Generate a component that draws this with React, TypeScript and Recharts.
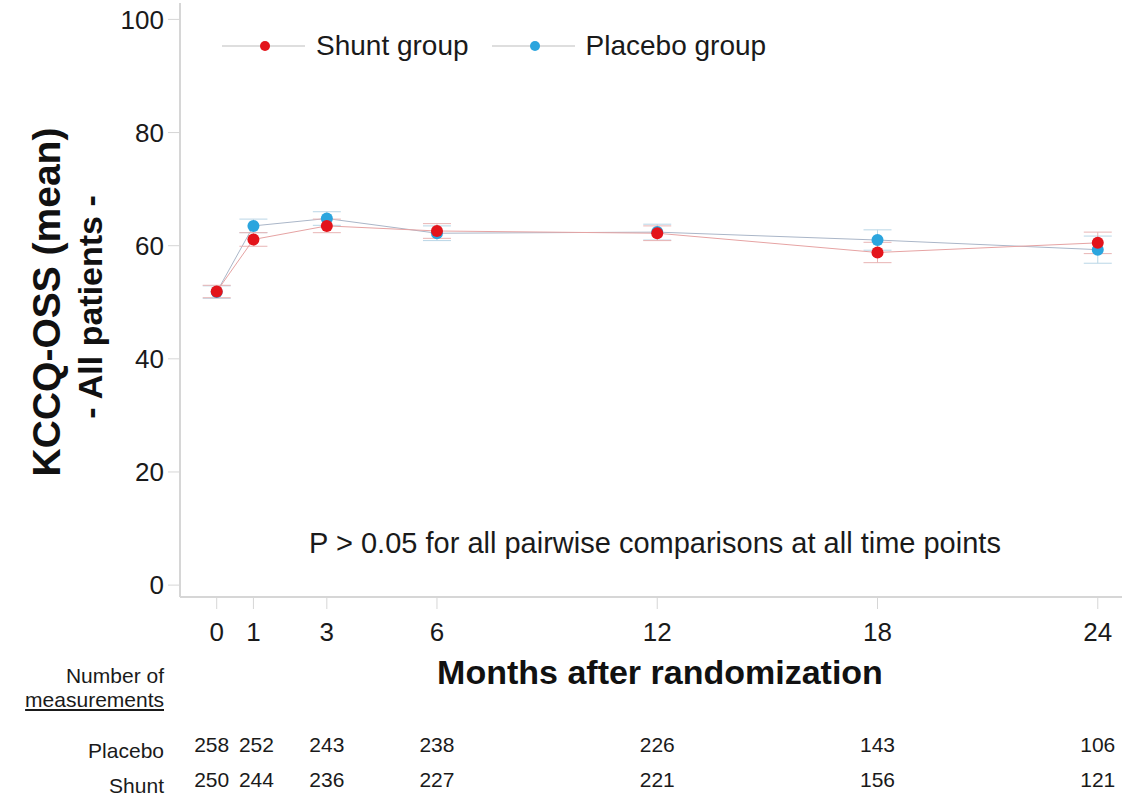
import React from "react";
import { ComposedChart, Line, XAxis, YAxis, ErrorBar, Label } from "recharts";

// KCCQ-OSS mean per visit, with error bars (lower, upper deltas)
const months = [0, 1, 3, 6, 12, 18, 24];
const shuntMean = [51.9, 61.1, 63.5, 62.6, 62.2, 58.8, 60.5];
const placeboMean = [51.8, 63.5, 64.8, 62.2, 62.4, 61.0, 59.3];
const shuntErr = [1.1, 1.2, 1.2, 1.3, 1.3, 1.8, 1.9];
const placeboErr = [1.1, 1.2, 1.2, 1.3, 1.4, 1.8, 2.4];
const placeboN = [258, 252, 243, 238, 226, 143, 106];
const shuntN = [250, 244, 236, 227, 221, 156, 121];
const yTicks = [0, 20, 40, 60, 80, 100];

const FONT = '"Liberation Sans", Arial, Helvetica, sans-serif';
const RED = "#e3141b";
const BLUE = "#2ba5de";

const data = months.map((m, i) => ({
  month: m,
  shunt: shuntMean[i],
  placebo: placeboMean[i],
  shuntErr: [shuntErr[i], shuntErr[i]],
  placeboErr: [placeboErr[i], placeboErr[i]],
}));

// tick label + the two "number of measurements" rows, placed by the x scale
function MonthTick(props: any) {
  const { x, payload } = props;
  const i = months.indexOf(payload.value);
  const nudge = i === 0 ? -5 : i === 1 ? 3 : 0;
  return (
    <g fontFamily={FONT} fill="#1a1a1a">
      <text x={x} y={641} textAnchor="middle" fontSize={26}>{payload.value}</text>
      <text x={x + nudge} y={752} textAnchor="middle" fontSize={21}>{placeboN[i]}</text>
      <text x={x + nudge} y={787} textAnchor="middle" fontSize={21}>{shuntN[i]}</text>
    </g>
  );
}

function YTitle() {
  return (
    <g fontFamily={FONT} fontWeight="bold" fill="#111">
      <text x={46} y={302} transform="rotate(-90 46 302)" textAnchor="middle" dominantBaseline="central" fontSize={39}>
        KCCQ-OSS (mean)
      </text>
      <text x={90} y={307} transform="rotate(-90 90 307)" textAnchor="middle" dominantBaseline="central" fontSize={34}>
        - All patients -
      </text>
    </g>
  );
}

function LegendBox() {
  const item = (color: string, text: string) => (
    <div style={{ display: "flex", alignItems: "center", marginRight: 23 }}>
      <svg width={83} height={14}>
        <line x1={0} y1={7} x2={83} y2={7} stroke="#bdbdbd" strokeWidth={1} />
        <circle cx={43} cy={7} r={5} fill={color} />
      </svg>
      <span style={{ marginLeft: 11, fontSize: 28, color: "#1a1a1a" }}>{text}</span>
    </div>
  );
  return (
    <div style={{ position: "absolute", left: 222, top: 30, display: "flex", fontFamily: FONT }}>
      {item(RED, "Shunt group")}
      {item(BLUE, "Placebo group")}
    </div>
  );
}

export default function App() {
  return (
    <div style={{ position: "absolute", left: 0, top: 0, width: 1143, height: 797, background: "#fff", fontFamily: FONT }}>
      <ComposedChart width={1143} height={797} data={data} margin={{ top: 3, right: 21, left: 0, bottom: 0 }}>
        <XAxis
          dataKey="month"
          type="number"
          domain={[-1, 24.66]}
          allowDataOverflow
          ticks={months}
          height={200}
          tickSize={12}
          stroke="#d6d6d6"
          strokeWidth={2}
          tickLine={{ stroke: "#d6d6d6", strokeWidth: 1 }}
          tick={<MonthTick />}
        >
          <Label
            content={() => (
              <text x={660} y={684} textAnchor="middle" fontFamily={FONT} fontWeight="bold" fontSize={34} fill="#111">
                Months after randomization
              </text>
            )}
          />
        </XAxis>
        <YAxis
          type="number"
          domain={[-2.1, 102.9]}
          allowDataOverflow
          ticks={yTicks}
          width={180}
          tickSize={12}
          tickMargin={4}
          stroke="#d6d6d6"
          strokeWidth={2}
          tickLine={{ stroke: "#d6d6d6", strokeWidth: 1 }}
          tick={{ fontSize: 26, fill: "#1a1a1a", fontFamily: FONT }}
        >
          <Label content={() => <YTitle />} />
        </YAxis>
        <Line
          dataKey="placebo"
          stroke="#aab6c8"
          strokeWidth={1}
          dot={{ r: 6, fill: BLUE, stroke: "none" }}
          isAnimationActive={false}
        >
          <ErrorBar dataKey="placeboErr" direction="y" width={14} stroke="#b9d6e6" strokeWidth={1} />
        </Line>
        <Line
          dataKey="shunt"
          stroke="#e6a3a3"
          strokeWidth={1}
          dot={{ r: 6, fill: RED, stroke: "none" }}
          isAnimationActive={false}
        >
          <ErrorBar dataKey="shuntErr" direction="y" width={14} stroke="#e8b4b4" strokeWidth={1} />
        </Line>
      </ComposedChart>
      <LegendBox />
      <div style={{ position: "absolute", left: 255, top: 527, width: 800, textAlign: "center", fontSize: 29, color: "#1a1a1a", whiteSpace: "nowrap" }}>
        P &gt; 0.05 for all pairwise comparisons at all time points
      </div>
      <div style={{ position: "absolute", right: 1143 - 164, top: 664, textAlign: "right", fontSize: 21, lineHeight: "24px", color: "#1a1a1a", whiteSpace: "nowrap" }}>
        <div>Number of</div>
        <div style={{ textDecoration: "underline" }}>measurements</div>
      </div>
      <div style={{ position: "absolute", right: 1143 - 164, top: 733, textAlign: "right", fontSize: 21, lineHeight: "35px", color: "#1a1a1a", whiteSpace: "nowrap" }}>
        <div>Placebo</div>
        <div>Shunt</div>
      </div>
    </div>
  );
}
